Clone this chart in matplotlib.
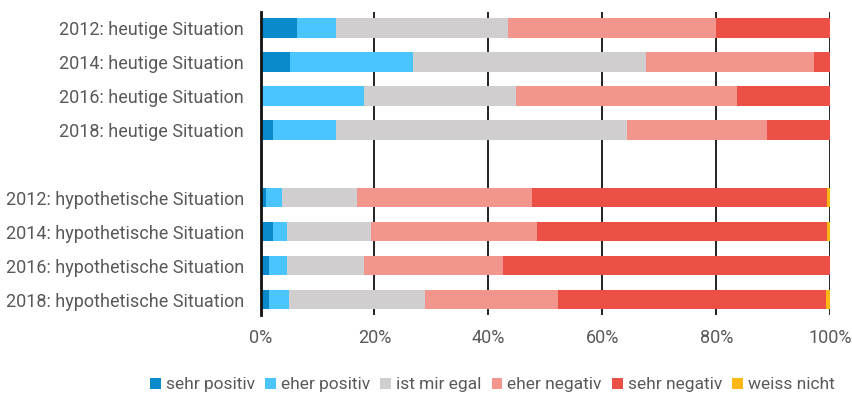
import matplotlib
matplotlib.use("Agg")
import matplotlib.pyplot as plt
import numpy as np

plt.rcParams['font.family'] = ['Roboto', 'DejaVu Sans']

categories = [
    "2012: heutige Situation",
    "2014: heutige Situation",
    "2016: heutige Situation",
    "2018: heutige Situation",
    "2012: hypothetische Situation",
    "2014: hypothetische Situation",
    "2016: hypothetische Situation",
    "2018: hypothetische Situation",
]

sehr_positiv = [6.4, 5.2, 0.0, 2.2, 1.0, 2.2, 1.5, 1.5]
eher_positiv = [6.9, 21.6, 18.2, 11.1, 2.7, 2.5, 3.2, 3.5]
egal = [30.1, 40.9, 26.7, 51.0, 13.2, 14.7, 13.5, 23.9]
eher_negativ = [36.5, 29.5, 38.8, 24.6, 30.8, 29.2, 24.3, 23.4]
sehr_negativ = [20.1, 2.8, 16.3, 11.1, 51.8, 50.9, 57.5, 46.9]
weiss_nicht = [0.0, 0.0, 0.0, 0.0, 0.5, 0.5, 0.0, 0.8]

series = [
    ("sehr positiv", sehr_positiv, "#0A8ACB"),
    ("eher positiv", eher_positiv, "#4BC5FD"),
    ("ist mir egal", egal, "#D0CECF"),
    ("eher negativ", eher_negativ, "#F2958D"),
    ("sehr negativ", sehr_negativ, "#EB5046"),
    ("weiss nicht", weiss_nicht, "#FDB813"),
]

text_color = "#595959"

# rows: four "heutige", one empty slot, four "hypothetische"
ypos = np.array([0, 1, 2, 3, 5, 6, 7, 8])

fig = plt.figure(figsize=(8.52, 3.94), dpi=100)
ax = fig.add_axes([0.3058, 0.2005, 0.6686, 0.7690])

left = np.zeros(len(categories))
for name, vals, col in series:
    vals = np.array(vals)
    ax.barh(ypos, vals, left=left, height=0.57, color=col, label=name,
            edgecolor='none', zorder=2)
    left += vals

ax.set_xlim(0, 100)
ax.set_ylim(8.45, -0.47)

ax.set_xticks([0, 20, 40, 60, 80, 100])
ax.set_xticklabels(["0%", "20%", "40%", "60%", "80%", "100%"])
ax.set_yticks(ypos)
ax.set_yticklabels(categories)

for x in [20, 40, 60, 80, 100]:
    ax.axvline(x, color="#111111", lw=1.3, zorder=1)

for s in ['top', 'right', 'bottom']:
    ax.spines[s].set_visible(False)
ax.spines['left'].set_color("#111111")
ax.spines['left'].set_linewidth(2)
ax.spines['left'].set_zorder(3)

ax.tick_params(axis='y', length=0, pad=12, labelsize=13, labelcolor=text_color)
ax.tick_params(axis='x', length=0, pad=10, labelsize=13, labelcolor=text_color)

fig.legend(loc='center', bbox_to_anchor=(0.578, 0.023), ncol=6, frameon=False,
           fontsize=12.5, labelcolor=text_color, handlelength=0.6, handleheight=0.6,
           handletextpad=0.3, columnspacing=0.6, borderaxespad=0)

fig.savefig("out.png", dpi=100)
